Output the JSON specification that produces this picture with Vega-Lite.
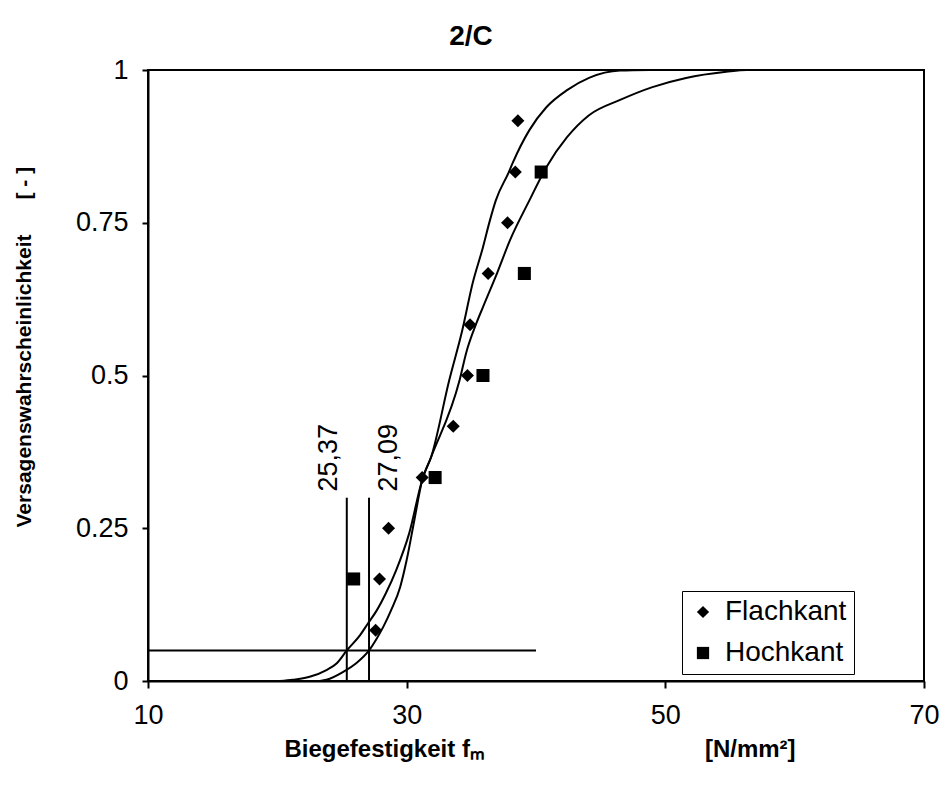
{
  "$schema": "https://vega.github.io/schema/vega-lite/v6.json",
  "width": 776,
  "height": 611,
  "autosize": {"type": "none"},
  "padding": {"left": 148, "top": 70, "right": 18, "bottom": 108},
  "background": "white",
  "title": {"text": "2/C", "fontSize": 28, "fontWeight": "bold", "font": "Liberation Sans", "color": "black", "anchor": "middle", "frame": "group", "dx": -65, "offset": 5},
  "config": {
    "view": {"stroke": "black", "strokeWidth": 2},
    "font": "Liberation Sans"
  },
  "datasets": {
    "curves": [
      {"curve": "Hochkant", "x": 20.2, "p": 0},
      {"curve": "Hochkant", "x": 21.2, "p": 0.002},
      {"curve": "Hochkant", "x": 22.5, "p": 0.007},
      {"curve": "Hochkant", "x": 23.8, "p": 0.018},
      {"curve": "Hochkant", "x": 24.6, "p": 0.029},
      {"curve": "Hochkant", "x": 25.37, "p": 0.05},
      {"curve": "Hochkant", "x": 26.4, "p": 0.075},
      {"curve": "Hochkant", "x": 27.0, "p": 0.094},
      {"curve": "Hochkant", "x": 27.7, "p": 0.116},
      {"curve": "Hochkant", "x": 28.4, "p": 0.144},
      {"curve": "Hochkant", "x": 29.2, "p": 0.182},
      {"curve": "Hochkant", "x": 30.2, "p": 0.242},
      {"curve": "Hochkant", "x": 31.2, "p": 0.329},
      {"curve": "Hochkant", "x": 31.9, "p": 0.367},
      {"curve": "Hochkant", "x": 34.1, "p": 0.493},
      {"curve": "Hochkant", "x": 34.6, "p": 0.537},
      {"curve": "Hochkant", "x": 35.4, "p": 0.586},
      {"curve": "Hochkant", "x": 35.9, "p": 0.612},
      {"curve": "Hochkant", "x": 37.0, "p": 0.668},
      {"curve": "Hochkant", "x": 38.0, "p": 0.722},
      {"curve": "Hochkant", "x": 39.5, "p": 0.787},
      {"curve": "Hochkant", "x": 40.8, "p": 0.841},
      {"curve": "Hochkant", "x": 42.4, "p": 0.89},
      {"curve": "Hochkant", "x": 44.1, "p": 0.926},
      {"curve": "Hochkant", "x": 46.5, "p": 0.951},
      {"curve": "Hochkant", "x": 49.0, "p": 0.972},
      {"curve": "Hochkant", "x": 51.6, "p": 0.987},
      {"curve": "Hochkant", "x": 54.7, "p": 0.997},
      {"curve": "Hochkant", "x": 56.3, "p": 1.0},
      {"curve": "Hochkant", "x": 60.0, "p": 1.0},
      {"curve": "Flachkant", "x": 23.3, "p": 0},
      {"curve": "Flachkant", "x": 23.8, "p": 0.002},
      {"curve": "Flachkant", "x": 25.1, "p": 0.015},
      {"curve": "Flachkant", "x": 26.1, "p": 0.029},
      {"curve": "Flachkant", "x": 27.09, "p": 0.05},
      {"curve": "Flachkant", "x": 27.7, "p": 0.07},
      {"curve": "Flachkant", "x": 28.2, "p": 0.089},
      {"curve": "Flachkant", "x": 28.8, "p": 0.116},
      {"curve": "Flachkant", "x": 29.5, "p": 0.154},
      {"curve": "Flachkant", "x": 30.0, "p": 0.198},
      {"curve": "Flachkant", "x": 30.6, "p": 0.264},
      {"curve": "Flachkant", "x": 31.2, "p": 0.329},
      {"curve": "Flachkant", "x": 31.9, "p": 0.367},
      {"curve": "Flachkant", "x": 33.3, "p": 0.493},
      {"curve": "Flachkant", "x": 34.3, "p": 0.574},
      {"curve": "Flachkant", "x": 35.1, "p": 0.651},
      {"curve": "Flachkant", "x": 35.9, "p": 0.71},
      {"curve": "Flachkant", "x": 36.4, "p": 0.751},
      {"curve": "Flachkant", "x": 36.9, "p": 0.787},
      {"curve": "Flachkant", "x": 37.9, "p": 0.833},
      {"curve": "Flachkant", "x": 38.2, "p": 0.848},
      {"curve": "Flachkant", "x": 39.5, "p": 0.902},
      {"curve": "Flachkant", "x": 40.8, "p": 0.939},
      {"curve": "Flachkant", "x": 42.4, "p": 0.967},
      {"curve": "Flachkant", "x": 44.1, "p": 0.987},
      {"curve": "Flachkant", "x": 46.5, "p": 0.999},
      {"curve": "Flachkant", "x": 48.8, "p": 1.0}
    ],
    "points": [
      {"serie": "Flachkant", "x": 27.6, "p": 0.083},
      {"serie": "Flachkant", "x": 27.9, "p": 0.167},
      {"serie": "Flachkant", "x": 28.6, "p": 0.25},
      {"serie": "Flachkant", "x": 31.2, "p": 0.333},
      {"serie": "Flachkant", "x": 33.6, "p": 0.417},
      {"serie": "Flachkant", "x": 34.7, "p": 0.5},
      {"serie": "Flachkant", "x": 34.9, "p": 0.583},
      {"serie": "Flachkant", "x": 36.3, "p": 0.667},
      {"serie": "Flachkant", "x": 37.8, "p": 0.75},
      {"serie": "Flachkant", "x": 38.4, "p": 0.833},
      {"serie": "Flachkant", "x": 38.6, "p": 0.917},
      {"serie": "Hochkant", "x": 25.9, "p": 0.167},
      {"serie": "Hochkant", "x": 32.2, "p": 0.333},
      {"serie": "Hochkant", "x": 35.9, "p": 0.5},
      {"serie": "Hochkant", "x": 39.1, "p": 0.667},
      {"serie": "Hochkant", "x": 40.4, "p": 0.833}
    ],
    "rules": [
      {"x": 25.37, "x2": 25.37, "p": 0, "p2": 0.3},
      {"x": 27.09, "x2": 27.09, "p": 0, "p2": 0.3},
      {"x": 10, "x2": 40, "p": 0.05, "p2": 0.05}
    ]
  },
  "encoding": {
    "x": {
      "field": "x", "type": "quantitative",
      "scale": {"domain": [10, 70], "nice": false, "zero": false},
      "axis": {
        "values": [10, 30, 50, 70],
        "grid": false,
        "labelFlush": false,
        "title": "Biegefestigkeit f\u2098\u00a0\u00a0\u00a0\u00a0\u00a0\u00a0\u00a0\u00a0\u00a0\u00a0\u00a0\u00a0\u00a0\u00a0\u00a0\u00a0\u00a0\u00a0\u00a0\u00a0\u00a0\u00a0\u00a0\u00a0\u00a0\u00a0\u00a0\u00a0\u00a0\u00a0\u00a0\u00a0\u00a0[N/mm²]",
        "titleFont": "Liberation Sans", "titleFontSize": 24, "titleFontWeight": "bold", "titleColor": "black",
        "titleX": 136, "titleY": 75, "titleAlign": "left", "titleBaseline": "alphabetic",
        "labelFont": "Liberation Sans", "labelFontSize": 27, "labelColor": "black", "labelPadding": 14,
        "tickSize": 7, "tickColor": "black", "tickWidth": 2,
        "domainColor": "black", "domainWidth": 2
      }
    },
    "y": {
      "field": "p", "type": "quantitative",
      "scale": {"domain": [0, 1], "nice": false},
      "axis": {
        "values": [0, 0.25, 0.5, 0.75, 1],
        "labelExpr": "'' + datum.value",
        "grid": false,
        "labelFlush": false,
        "title": "Versagenswahrscheinlichkeit\u00a0\u00a0\u00a0\u00a0\u00a0\u00a0[ - ]",
        "titleFont": "Liberation Sans", "titleFontSize": 21, "titleFontWeight": "bold", "titleColor": "black",
        "titleAngle": 270, "titleX": -118, "titleY": 457, "titleAlign": "left", "titleBaseline": "alphabetic",
        "labelFont": "Liberation Sans", "labelFontSize": 27, "labelColor": "black", "labelPadding": 14,
        "tickSize": 6, "tickColor": "black", "tickWidth": 2,
        "domainColor": "black", "domainWidth": 2
      }
    }
  },
  "layer": [
    {
      "data": {"name": "curves"},
      "mark": {"type": "line", "color": "black", "strokeWidth": 2, "interpolate": "monotone"},
      "encoding": {"detail": {"field": "curve"}}
    },
    {
      "data": {"name": "rules"},
      "mark": {"type": "rule", "color": "black", "strokeWidth": 2},
      "encoding": {
        "x2": {"field": "x2"},
        "y2": {"field": "p2"}
      }
    },
    {
      "data": {"name": "points"},
      "mark": {"type": "point", "filled": true, "opacity": 1, "size": 170, "color": "black"},
      "encoding": {
        "shape": {
          "field": "serie", "type": "nominal",
          "scale": {"domain": ["Flachkant", "Hochkant"], "range": ["diamond", "square"]},
          "legend": {
            "title": null, "orient": "none", "legendX": 534, "legendY": 521,
            "fillColor": "white", "strokeColor": "black", "padding": 7,
            "labelFont": "Liberation Sans", "labelFontSize": 28, "labelColor": "black",
            "symbolSize": 150, "symbolFillColor": "black", "symbolStrokeColor": "black", "symbolOpacity": 1,
            "rowPadding": 13, "labelOffset": 8
          }
        }
      }
    },
    {
      "data": {"values": [{"x": 25.37, "p": 0.31, "label": "25,37"}]},
      "mark": {"type": "text", "angle": 270, "align": "left", "baseline": "alphabetic", "dy": -10, "fontSize": 27, "font": "Liberation Sans", "color": "black"},
      "encoding": {"text": {"field": "label"}}
    },
    {
      "data": {"values": [{"x": 27.09, "p": 0.31, "label": "27,09"}]},
      "mark": {"type": "text", "angle": 270, "align": "left", "baseline": "top", "dy": 7, "fontSize": 27, "font": "Liberation Sans", "color": "black"},
      "encoding": {"text": {"field": "label"}}
    }
  ]
}
